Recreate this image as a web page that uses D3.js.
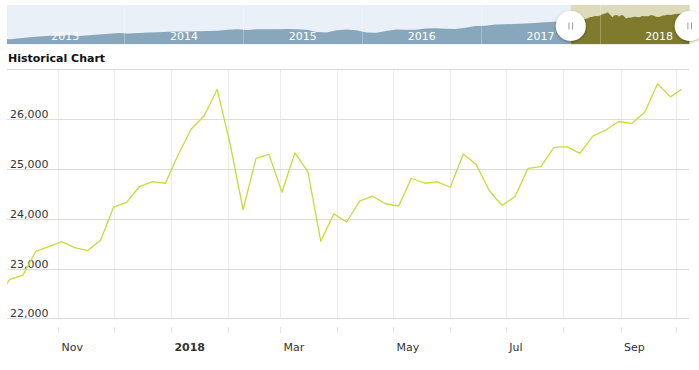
<!DOCTYPE html>
<html>
<head>
<meta charset="utf-8">
<script src="https://cdn.jsdelivr.net/npm/d3@7"></script>
<style>
  body { margin: 0; background: #fff; }
  svg { display: block; font-family: 'DejaVu Sans', Verdana, sans-serif; }
</style>
</head>
<body>
<svg id="chart" width="699" height="370"></svg>
<script>
// weekly closes shown in the main chart
const weekDates = [
  '2017-09-29', '2017-10-06', '2017-10-13', '2017-10-20', '2017-10-27',
  '2017-11-03', '2017-11-10', '2017-11-17', '2017-11-24', '2017-12-01',
  '2017-12-08', '2017-12-15', '2017-12-22', '2017-12-29', '2018-01-05',
  '2018-01-12', '2018-01-19', '2018-01-26', '2018-02-02', '2018-02-09',
  '2018-02-16', '2018-02-23', '2018-03-02', '2018-03-09', '2018-03-16',
  '2018-03-23', '2018-03-30', '2018-04-06', '2018-04-13', '2018-04-20',
  '2018-04-27', '2018-05-04', '2018-05-11', '2018-05-18', '2018-05-25',
  '2018-06-01', '2018-06-08', '2018-06-15', '2018-06-22', '2018-06-29',
  '2018-07-06', '2018-07-13', '2018-07-20', '2018-07-27', '2018-08-03',
  '2018-08-10', '2018-08-17', '2018-08-24', '2018-08-31', '2018-09-07',
  '2018-09-14', '2018-09-21', '2018-09-28', '2018-10-04'
];
const weekValues = [
  22430, 22780, 22866, 23346, 23440,
  23540, 23420, 23360, 23566, 24232,
  24326, 24646, 24746, 24712, 25290,
  25800, 26066, 26600, 25500, 24180,
  25212, 25292, 24532, 25320, 24946,
  23546, 24096, 23934, 24352, 24452,
  24300, 24252, 24812, 24712, 24740,
  24632, 25300, 25086, 24566, 24266,
  24446, 25012, 25046, 25432, 25446,
  25312, 25660, 25780, 25952, 25912,
  26132, 26712, 26446, 26600
];

// longer history shown in the navigator (monthly, before the weekly part)
const navDates = [
  '2013-01-04', '2013-01-15', '2013-02-15', '2013-03-15', '2013-04-15', '2013-05-15', '2013-06-15',
  '2013-07-15', '2013-08-15', '2013-09-15', '2013-10-15', '2013-11-15', '2013-12-15',
  '2014-01-15', '2014-02-15', '2014-03-15', '2014-04-15', '2014-05-15', '2014-06-15',
  '2014-07-15', '2014-08-15', '2014-09-15', '2014-10-15', '2014-11-15', '2014-12-15',
  '2015-01-15', '2015-02-15', '2015-03-15', '2015-04-15', '2015-05-15', '2015-06-15',
  '2015-07-15', '2015-08-15', '2015-09-15', '2015-10-15', '2015-11-15', '2015-12-15',
  '2016-01-15', '2016-02-15', '2016-03-15', '2016-04-15', '2016-05-15', '2016-06-15',
  '2016-07-15', '2016-08-15', '2016-09-15', '2016-10-15', '2016-11-15', '2016-12-15',
  '2017-01-15', '2017-02-15', '2017-03-15', '2017-04-15', '2017-05-15', '2017-06-15',
  '2017-07-15', '2017-08-15', '2017-09-15'
];
const navValues = [
  13400, 13500, 13900, 14400, 14800, 15200, 15000,
  15500, 15100, 15400, 15800, 16200, 16500,
  16300, 16500, 16700, 16900, 17100, 17200,
  17200, 17400, 17500, 17600, 18100, 18300,
  18000, 18400, 18300, 18400, 18500, 18300,
  18100, 17000, 16800, 17800, 18200, 17900,
  16700, 16600, 17500, 18200, 18100, 18100,
  18700, 18800, 18600, 18500, 19100, 19900,
  20100, 20600, 20800, 20900, 21100, 21400,
  21700, 22000, 22300
];

const yTicks = [22000, 23000, 24000, 25000, 26000, 27000];
const yLabelTicks = [22000, 23000, 24000, 25000, 26000];
const xLabelDates = ['2017-11-01', '2018-01-01', '2018-03-01', '2018-05-01', '2018-07-01', '2018-09-01'];
const xLabels = ['Nov', '2018', 'Mar', 'May', 'Jul', 'Sep'];
const navYears = ['2013', '2014', '2015', '2016', '2017', '2018'];

const parse = d3.timeParse('%Y-%m-%d');
const weekly = weekDates.map((d, i) => ({ date: parse(d), value: weekValues[i] }));
const history = navDates.map((d, i) => ({ date: parse(d), value: navValues[i] })).concat(weekly);

const svg = d3.select('#chart');
const plot = { left: 7, right: 689, top: 69.3, bottom: 318.3 };
const nav = { left: 7, right: 689.7, top: 5, bottom: 44.3 };

// ---------- main chart ----------
const x = d3.scaleTime()
  .domain([new Date(2017, 9, 4, 10), new Date(2018, 9, 8)])
  .range([plot.left, plot.right]);
const y = d3.scaleLinear()
  .domain([22000, 27000])
  .range([plot.bottom, plot.top]);

const months = d3.timeMonth.range(new Date(2017, 10, 1), new Date(2018, 10, 1));

svg.append('g').selectAll('line.vgrid')
  .data(months)
  .enter()
  .append('line')
  .attr('class', 'vgrid')
  .attr('x1', d => Math.round(x(d)) + 0.5)
  .attr('x2', d => Math.round(x(d)) + 0.5)
  .attr('y1', plot.top)
  .attr('y2', plot.bottom)
  .attr('stroke', '#ececec');

svg.append('g').selectAll('line.tick')
  .data(months)
  .enter()
  .append('line')
  .attr('class', 'tick')
  .attr('x1', d => Math.round(x(d)) + 0.5)
  .attr('x2', d => Math.round(x(d)) + 0.5)
  .attr('y1', 327)
  .attr('y2', 333)
  .attr('stroke', '#e6e6e6');

svg.append('g').selectAll('line.hgrid')
  .data(yTicks)
  .enter()
  .append('line')
  .attr('class', 'hgrid')
  .attr('x1', plot.left)
  .attr('x2', plot.right)
  .attr('y1', d => Math.round(y(d)) + 0.5)
  .attr('y2', d => Math.round(y(d)) + 0.5)
  .attr('stroke', '#dcdcdc');

svg.append('g').selectAll('text.ylab')
  .data(yLabelTicks)
  .enter()
  .append('text')
  .attr('class', 'ylab')
  .attr('x', 10)
  .attr('y', d => y(d) - 1)
  .attr('fill', '#333')
  .style('font-size', '11px')
  .text(d => d3.format(',')(d));

svg.append('g').selectAll('text.xlab')
  .data(xLabelDates)
  .enter()
  .append('text')
  .attr('class', 'xlab')
  .attr('x', d => x(parse(d)) + 3.5)
  .attr('y', 351)
  .attr('fill', '#333')
  .style('font-size', '11px')
  .style('font-weight', (d, i) => xLabels[i] === '2018' ? 'bold' : 'normal')
  .text((d, i) => xLabels[i]);

svg.append('clipPath').attr('id', 'plot-clip')
  .append('rect')
  .attr('x', plot.left)
  .attr('y', 0)
  .attr('width', plot.right - plot.left)
  .attr('height', 370);

svg.append('path')
  .datum(weekly)
  .attr('clip-path', 'url(#plot-clip)')
  .attr('fill', 'none')
  .attr('stroke', '#c2de3c')
  .attr('stroke-width', 1.3)
  .attr('stroke-linejoin', 'round')
  .attr('d', d3.line().x(d => x(d.date)).y(d => y(d.value)));

svg.append('text')
  .attr('x', 8)
  .attr('y', 62)
  .attr('fill', '#111')
  .style('font-size', '11px')
  .style('font-weight', 'bold')
  .text('Historical Chart');

// ---------- navigator ----------
const nx = d3.scaleTime()
  .domain([new Date(2013, 0, 5), new Date(2018, 9, 5)])
  .range([nav.left, nav.right]);
const ny = d3.scaleLinear()
  .domain([11000, 27000])
  .range([nav.bottom, 11.5]);

const selLeft = Math.max(nav.left, nx(x.domain()[0]));
const selRight = Math.min(nav.right, nx(x.domain()[1]));

const defs = svg.append('defs');
defs.append('clipPath').attr('id', 'nav-out')
  .append('rect')
  .attr('x', nav.left).attr('y', nav.top)
  .attr('width', selLeft - nav.left).attr('height', nav.bottom - nav.top);
defs.append('clipPath').attr('id', 'nav-in')
  .append('rect')
  .attr('x', selLeft).attr('y', nav.top)
  .attr('width', selRight - selLeft).attr('height', nav.bottom - nav.top);
const shadow = defs.append('filter').attr('id', 'handle-shadow')
  .attr('x', '-50%').attr('y', '-50%').attr('width', '200%').attr('height', '200%');
shadow.append('feDropShadow')
  .attr('dx', 0).attr('dy', 1).attr('stdDeviation', 1.6)
  .attr('flood-color', '#000').attr('flood-opacity', 0.35);

svg.append('rect')
  .attr('x', nav.left).attr('y', nav.top)
  .attr('width', selLeft - nav.left).attr('height', nav.bottom - nav.top)
  .attr('fill', '#e9f0f7');
svg.append('rect')
  .attr('x', selLeft).attr('y', nav.top)
  .attr('width', selRight - selLeft).attr('height', nav.bottom - nav.top)
  .attr('fill', '#dcdbbb');

const navArea = d3.area()
  .x(d => nx(d.date))
  .y0(nav.bottom)
  .y1(d => ny(d.value));

svg.append('path').datum(history)
  .attr('clip-path', 'url(#nav-out)')
  .attr('fill', '#88a7bc')
  .attr('d', navArea);
svg.append('path').datum(history)
  .attr('clip-path', 'url(#nav-in)')
  .attr('fill', '#807a2c')
  .attr('d', navArea);

svg.append('g').selectAll('line.year')
  .data(navYears.slice(1))
  .enter()
  .append('line')
  .attr('class', 'year')
  .attr('x1', d => Math.round(nx(new Date(+d, 0, 1))) + 0.5)
  .attr('x2', d => Math.round(nx(new Date(+d, 0, 1))) + 0.5)
  .attr('y1', nav.top)
  .attr('y2', nav.bottom)
  .attr('stroke', '#fff')
  .attr('stroke-opacity', 0.25);

svg.append('g').selectAll('text.year')
  .data(navYears)
  .enter()
  .append('text')
  .attr('class', 'year')
  .attr('x', d => nx(new Date(+d, 6, 3)))
  .attr('y', 39.5)
  .attr('text-anchor', 'middle')
  .attr('fill', '#fff')
  .style('font-size', '11px')
  .text(d => d);

const handles = svg.append('g').selectAll('g.handle')
  .data([selLeft, selRight])
  .enter()
  .append('g')
  .attr('class', 'handle')
  .attr('transform', d => `translate(${d}, 26)`);
handles.append('circle')
  .attr('r', 15)
  .attr('fill', '#fff')
  .attr('filter', 'url(#handle-shadow)');
handles.selectAll('line')
  .data([-1.8, 1.8])
  .enter()
  .append('line')
  .attr('x1', d => d).attr('x2', d => d)
  .attr('y1', -3.5).attr('y2', 3.5)
  .attr('stroke', '#9a9a9a');
</script>
</body>
</html>
